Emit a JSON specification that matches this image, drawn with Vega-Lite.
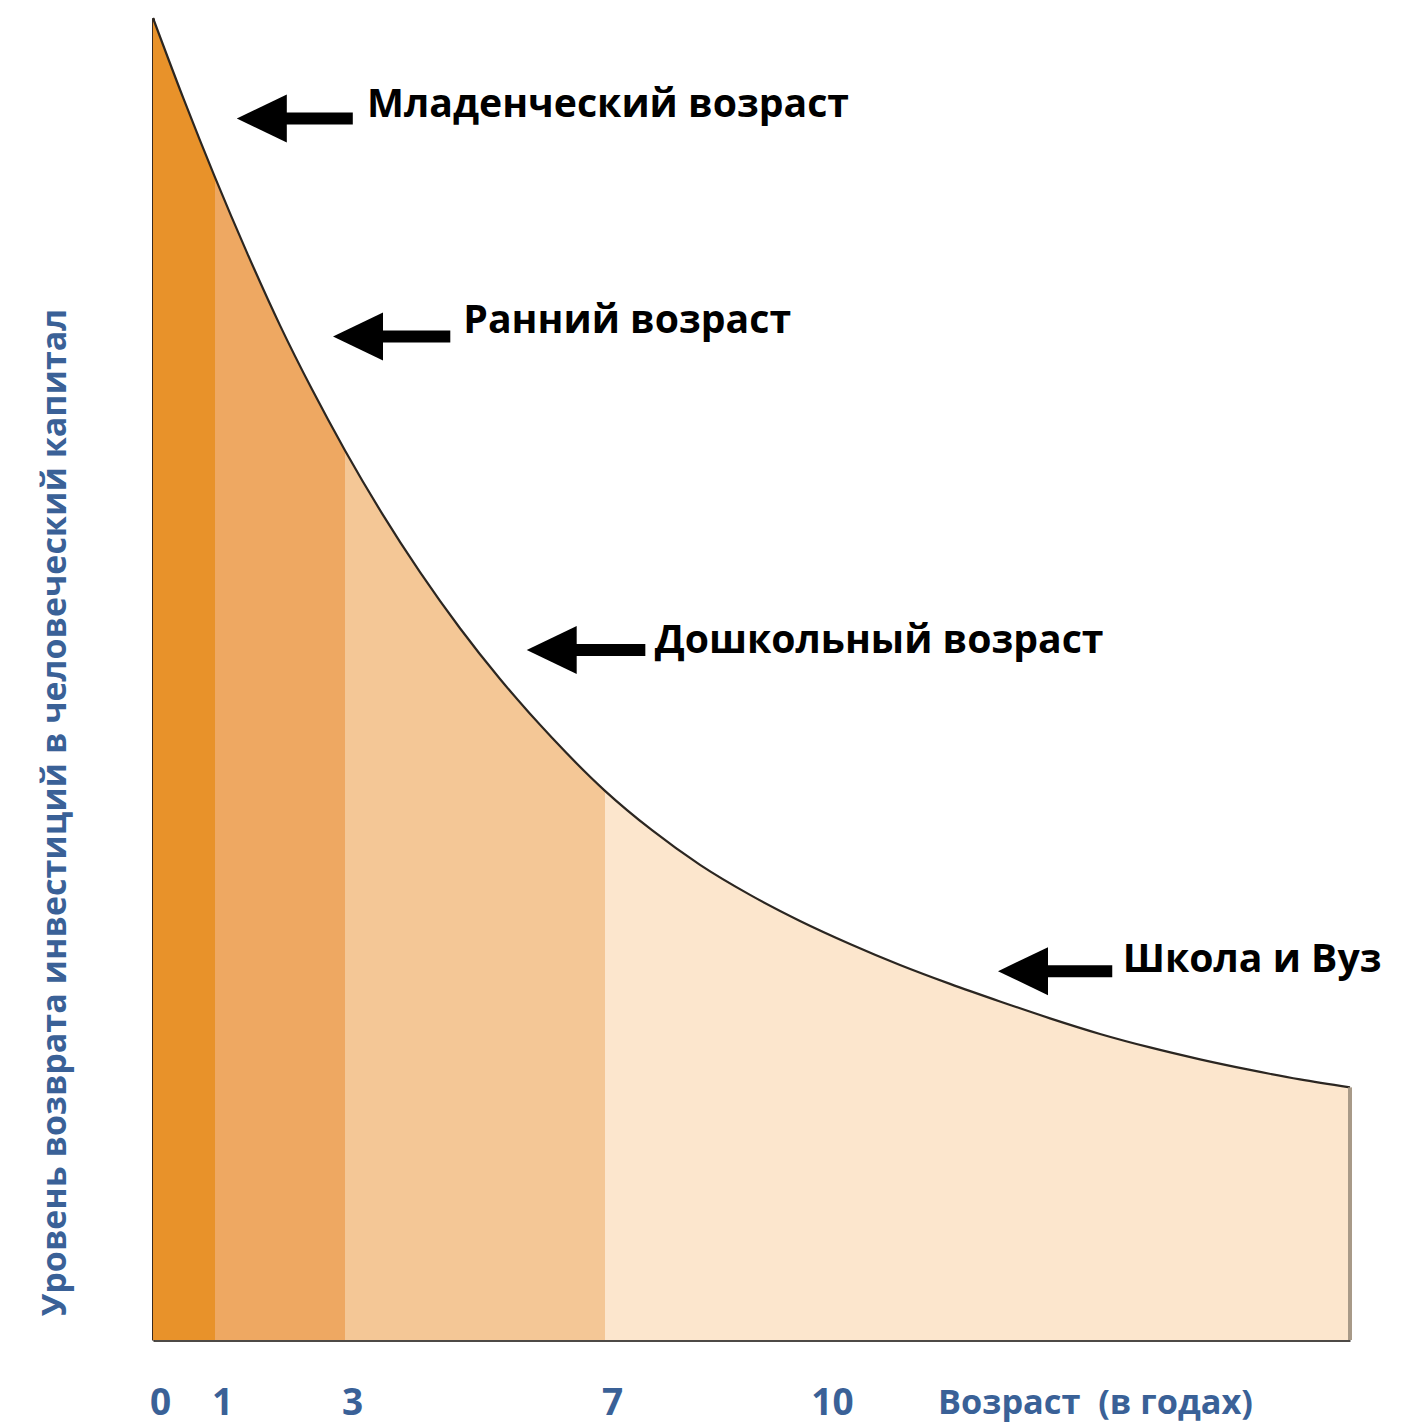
{
  "$schema": "https://vega.github.io/schema/vega-lite/v6.json",
  "width": 1197,
  "height": 1322,
  "autosize": {"type": "none"},
  "padding": {"left": 153, "top": 18, "right": 65, "bottom": 85},
  "background": "white",
  "config": {"view": {"stroke": null}},
  "datasets": {
    "curve": [
      {"band": "0–1", "age": 0, "value": 100},
      {"band": "0–1", "age": 0.5, "value": 93.8},
      {"band": "0–1", "age": 1, "value": 87.94},
      {"band": "1–3", "age": 1, "value": 87.94},
      {"band": "1–3", "age": 1.492, "value": 82.25},
      {"band": "1–3", "age": 2.0, "value": 76.75},
      {"band": "1–3", "age": 2.492, "value": 71.91},
      {"band": "1–3", "age": 3, "value": 67.29},
      {"band": "3–7", "age": 3, "value": 67.29},
      {"band": "3–7", "age": 3.569, "value": 62.53},
      {"band": "3–7", "age": 4.154, "value": 58.08},
      {"band": "3–7", "age": 4.769, "value": 53.84},
      {"band": "3–7", "age": 5.385, "value": 50.0},
      {"band": "3–7", "age": 6.185, "value": 45.55},
      {"band": "3–7", "age": 7, "value": 41.54},
      {"band": "7+", "age": 7, "value": 41.54},
      {"band": "7+", "age": 7.641, "value": 38.56},
      {"band": "7+", "age": 8.296, "value": 35.94},
      {"band": "7+", "age": 8.978, "value": 33.67},
      {"band": "7+", "age": 9.659, "value": 31.7},
      {"band": "7+", "age": 10.333, "value": 29.96},
      {"band": "7+", "age": 11.0, "value": 28.37},
      {"band": "7+", "age": 11.667, "value": 26.94},
      {"band": "7+", "age": 12.333, "value": 25.61},
      {"band": "7+", "age": 13.0, "value": 24.33},
      {"band": "7+", "age": 13.667, "value": 23.15},
      {"band": "7+", "age": 14.333, "value": 22.13},
      {"band": "7+", "age": 15.0, "value": 21.23},
      {"band": "7+", "age": 15.667, "value": 20.43},
      {"band": "7+", "age": 16.333, "value": 19.71},
      {"band": "7+", "age": 17, "value": 19.11}
    ],
    "arrows": [
      {"label": "Младенческий возраст", "age": 1.72, "age2": 3.12, "value": 92.4},
      {"label": "Ранний возраст", "age": 3.2, "age2": 4.62, "value": 75.9},
      {"label": "Дошкольный возраст", "age": 6.18, "age2": 7.55, "value": 52.2},
      {"label": "Школа и Вуз", "age": 12.64, "age2": 13.83, "value": 27.9}
    ],
    "labels": [
      {"label": "Младенческий возраст", "age": 3.34, "value": 92.5},
      {"label": "Ранний возраст", "age": 4.82, "value": 76.2},
      {"label": "Дошкольный возраст", "age": 7.68, "value": 52.0},
      {"label": "Школа и Вуз", "age": 13.97, "value": 27.8}
    ],
    "edge": [{"age": 17, "value": 19.11}]
  },
  "encoding": {
    "x": {
      "field": "age",
      "type": "quantitative",
      "scale": {"domain": [0, 1, 3, 7, 10, 17], "range": [0, 62, 192, 452, 672, 1197], "nice": false, "zero": false},
      "axis": {
        "values": [0, 1, 3, 7, 10],
        "format": "d",
        "grid": false,
        "ticks": false,
        "domainColor": "#4d4a46",
        "domainWidth": 3,
        "labelFont": "Open Sans",
        "labelFontWeight": "bold",
        "labelFontSize": 37,
        "labelColor": "#3A6197",
        "labelBaseline": "alphabetic",
        "labelPadding": 74,
        "labelOffset": 7,
        "labelFlush": false,
        "labelOverlap": false,
        "labelBound": false,
        "title": "Возраст\u00a0 (в годах)",
        "titleFont": "Open Sans",
        "titleFontWeight": "bold",
        "titleFontSize": 34.3,
        "titleColor": "#3A6197",
        "titleAlign": "center",
        "titleBaseline": "alphabetic",
        "titleX": 942,
        "titleY": 73
      }
    },
    "y": {
      "field": "value",
      "type": "quantitative",
      "stack": null,
      "scale": {"domain": [0, 100], "nice": false},
      "axis": {
        "labels": false,
        "ticks": false,
        "grid": false,
        "domainColor": "#3b2a1e",
        "domainWidth": 3,
        "title": "Уровень возврата инвестиций в человеческий капитал",
        "titleFont": "Open Sans",
        "titleFontWeight": "bold",
        "titleFontSize": 34,
        "titleColor": "#3A6197",
        "titleAngle": -90,
        "titleAlign": "center",
        "titleBaseline": "middle",
        "titleX": -98,
        "titleY": 794
      }
    }
  },
  "layer": [
    {
      "data": {"name": "curve"},
      "mark": {"type": "area", "interpolate": "monotone"},
      "encoding": {
        "color": {
          "field": "band",
          "type": "nominal",
          "scale": {"domain": ["0–1", "1–3", "3–7", "7+"], "range": ["#E8922A", "#EEA862", "#F4C796", "#FCE6CD"]},
          "legend": null
        }
      }
    },
    {
      "data": {"name": "curve"},
      "transform": [{"aggregate": [{"op": "count", "as": "n"}], "groupby": ["age", "value"]}],
      "mark": {"type": "line", "interpolate": "monotone", "color": "#2b2621", "strokeWidth": 2.2}
    },
    {
      "data": {"name": "edge"},
      "mark": {"type": "rule", "color": "#a89a88", "strokeWidth": 4},
      "encoding": {"y2": {"datum": 0}}
    },
    {
      "data": {"name": "arrows"},
      "mark": {"type": "rule", "color": "black", "strokeWidth": 12, "strokeCap": "butt"},
      "encoding": {"x2": {"field": "age2"}}
    },
    {
      "data": {"name": "arrows"},
      "mark": {"type": "point", "shape": "M-1,0L1,-0.96L1,0.96Z", "filled": true, "color": "black", "opacity": 1, "size": 2500}
    },
    {
      "data": {"name": "labels"},
      "mark": {"type": "text", "align": "left", "baseline": "alphabetic", "font": "Open Sans", "fontWeight": "bold", "fontSize": 39.2, "color": "black"},
      "encoding": {"text": {"field": "label"}}
    }
  ]
}
